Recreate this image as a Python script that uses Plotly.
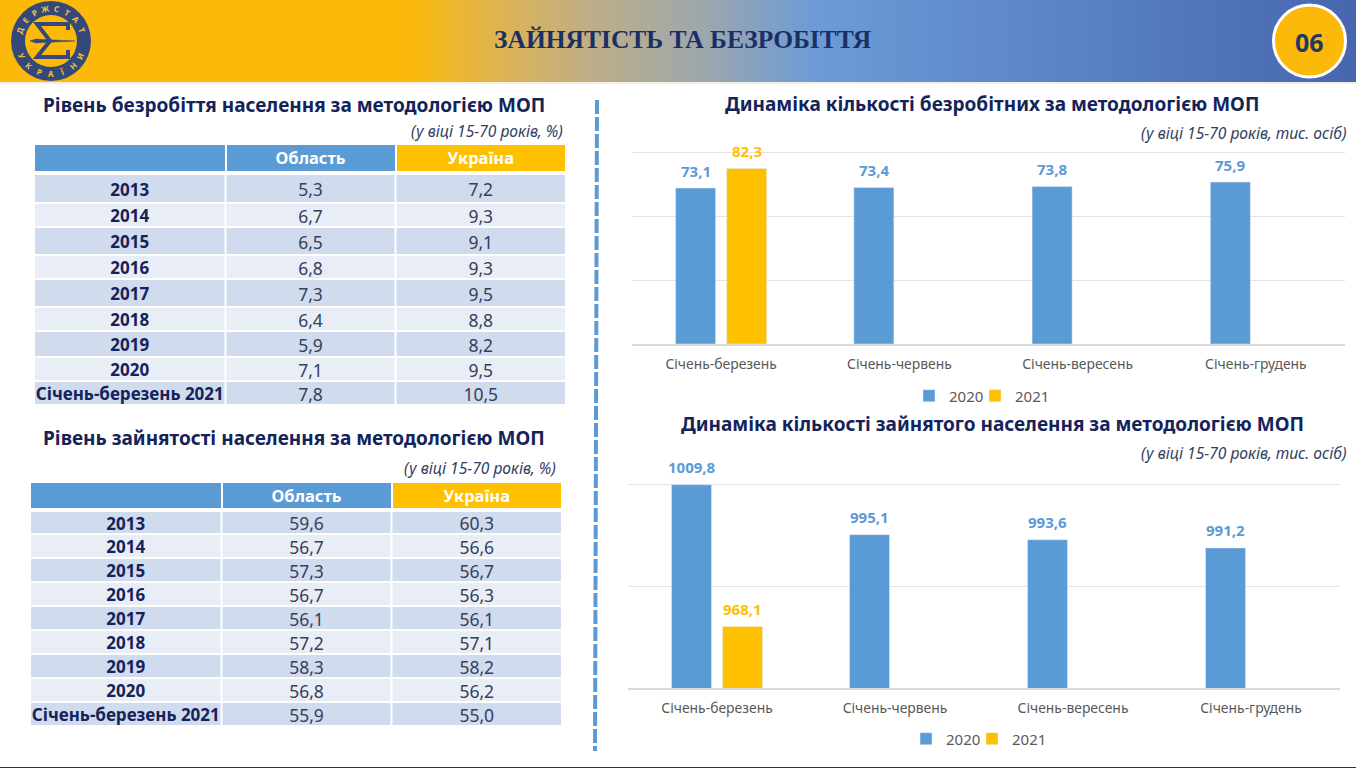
import base64, math
import plotly.graph_objects as go

W, H = 1356, 768
def X(p): return p / W
def Y(p): return 1 - p / H

# ---------- data ----------
table_rows = ["2013", "2014", "2015", "2016", "2017", "2018", "2019", "2020", "Січень-березень 2021"]
unemp_region = ["5,3", "6,7", "6,5", "6,8", "7,3", "6,4", "5,9", "7,1", "7,8"]
unemp_ukraine = ["7,2", "9,3", "9,1", "9,3", "9,5", "8,8", "8,2", "9,5", "10,5"]
empl_region = ["59,6", "56,7", "57,3", "56,7", "56,1", "57,2", "58,3", "56,8", "55,9"]
empl_ukraine = ["60,3", "56,6", "56,7", "56,3", "56,1", "57,1", "58,2", "56,2", "55,0"]

periods = ["Січень-березень", "Січень-червень", "Січень-вересень", "Січень-грудень"]
unemployed_2020 = [73.1, 73.4, 73.8, 75.9]
unemployed_2021 = [82.3, None, None, None]
employed_2020 = [1009.8, 995.1, 993.6, 991.2]
employed_2021 = [968.1, None, None, None]

BLUE, GOLD = "#5B9BD5", "#FFC000"
NAVY, GREY = "#14235A", "#595959"
FONT = "Noto Sans"
DARK, LIGHT = "#D0DBED", "#E9EDF6"

fig = go.Figure()
shapes = []

def rect(x0, y0, x1, y1, **kw):
    return dict(type="rect", xref="paper", yref="paper", x0=X(x0), x1=X(x1), y0=Y(y0), y1=Y(y1), **kw)

# ---------- tables ----------
def add_table(top_h, bot_h, edges, xs, rows, a, b):
    x_dom = [X(xs[0]), X(xs[3])]
    widths = [xs[1] - xs[0], xs[2] - xs[1], xs[3] - xs[2]]
    fig.add_trace(go.Table(
        domain=dict(x=x_dom, y=[Y(bot_h), Y(top_h)]),
        columnwidth=widths,
        header=dict(values=["", "Область", "Україна"], height=bot_h - top_h,
                    fill_color=[BLUE, BLUE, GOLD], line=dict(color="white", width=2),
                    align="center", font=dict(family=FONT, size=16.5, color="white", weight=700)),
    ))
    for i, (r, u, v) in enumerate(zip(rows, a, b)):
        fill = DARK if i % 2 == 0 else LIGHT
        for c in range(3):
            shapes.append(rect(xs[c] + 1, edges[i] + 1, xs[c + 1] - 1, edges[i + 1] - 1,
                               fillcolor=fill, line=dict(width=0), layer="below"))
        centre = (edges[i] + edges[i + 1]) / 2
        top = centre - 13.5
        fig.add_trace(go.Table(
            domain=dict(x=x_dom, y=[Y(top + 29), Y(top)]),
            columnwidth=widths,
            header=dict(values=[r.replace(" ", "\u00a0"), u, v], height=29, fill_color="rgba(0,0,0,0)",
                        line=dict(color="rgba(0,0,0,0)", width=0), align="center",
                        font=dict(family=FONT, size=[17, 17.5, 17.5], color=[NAVY, "#34405C", "#34405C"],
                                  weight=[700, 400, 400])),
        ))

add_table(144, 172, [174, 203, 227, 255, 279, 307, 331, 357, 381, 405], [34, 225.5, 395.5, 566],
          table_rows, unemp_region, unemp_ukraine)
add_table(482, 509, [511, 534, 558, 582, 606, 630, 654, 678, 702, 726], [30, 221.5, 391.5, 562],
          table_rows, empl_region, empl_ukraine)

# ---------- bar charts ----------
def add_chart(xa, ya, legend, v20, v21):
    fig.add_trace(go.Bar(x=periods, y=v20, name="2020", marker_color=BLUE, xaxis=xa, yaxis=ya, legend=legend))
    fig.add_trace(go.Bar(x=periods, y=v21, name="2021", marker_color=GOLD, xaxis=xa, yaxis=ya, legend=legend))

add_chart("x", "y", "legend", unemployed_2020, unemployed_2021)
add_chart("x2", "y2", "legend2", employed_2020, employed_2021)

annotations = []
def label(xa, ya, x, v, shift, color):
    annotations.append(dict(x=x, y=v, xref=xa, yref=ya, text=f"<b>{v:.1f}</b>".replace(".", ","),
                            showarrow=False, xshift=shift, yshift=17.5, yanchor="middle",
                            font=dict(family=FONT, size=15, color=color)))
for xa, ya, a20, a21 in (("x", "y", unemployed_2020, unemployed_2021), ("x2", "y2", employed_2020, employed_2021)):
    for p, a, b in zip(periods, a20, a21):
        label(xa, ya, p, a, -25.5, BLUE)
        if b is not None:
            label(xa, ya, p, b, 25.5, GOLD)

def text(x, y, s, size, color=NAVY, xanchor="center", family=FONT, **kw):
    annotations.append(dict(x=X(x), y=Y(y), xref="paper", yref="paper", text=s, showarrow=False,
                            xanchor=xanchor, yanchor="middle", font=dict(family=family, size=size, color=color), **kw))

TITLE = 19
text(293.5, 105, "<b>Рівень безробіття населення за методологією МОП</b>", TITLE)
text(294, 438, "<b>Рівень зайнятості населення за методологією МОП</b>", TITLE)
text(992, 104, "<b>Динаміка кількості безробітних за методологією МОП</b>", TITLE)
text(992, 424, "<b>Динаміка кількості зайнятого населення за методологією МОП</b>", TITLE)
SUB = "#33415F"
SUBSIZE = 15.6
text(565, 131, "<i>(у віці 15-70 років, %)</i>", SUBSIZE, SUB, "right")
text(558, 468, "<i>(у віці 15-70 років, %)</i>", SUBSIZE, SUB, "right")
text(1348, 133, "<i>(у віці 15-70 років, тис. осіб)</i>", SUBSIZE, SUB, "right")
text(1348, 453, "<i>(у віці 15-70 років, тис. осіб)</i>", SUBSIZE, SUB, "right")
text(682, 39, "<b>ЗАЙНЯТІСТЬ ТА БЕЗРОБІТТЯ</b>", 25.5, "#1C2F63", family="Liberation Serif")
text(1309.5, 42, "<b>06</b>", 25, "#1F3864")

# logo letters round the ring
RING = "#34497A"
LC, LR = (51, 41), 33
def arc(word, start, step, flip):
    for i, ch in enumerate(word):
        ang = math.radians(start + i * step)
        x = LC[0] + LR * math.sin(ang)
        y = LC[1] - LR * math.cos(ang)
        rot = start + i * step + (180 if flip else 0)
        text(x, y, f"<b>{ch}</b>", 8, "#F6C136", textangle=rot)
arc("ДЕРЖСТАТ", -70, 20, False)
arc("УКРАЇНИ", 243, -21, True)

# ---------- header gradient ----------
svg = ('<svg xmlns="http://www.w3.org/2000/svg" width="1356" height="82" preserveAspectRatio="none">'
       '<defs><linearGradient id="g"><stop offset="0" stop-color="#FDB90A"/>'
       '<stop offset="0.30" stop-color="#FDB90A"/><stop offset="0.38" stop-color="#D9B35C"/>'
       '<stop offset="0.436" stop-color="#BEAD87"/><stop offset="0.52" stop-color="#9CA7AE"/>'
       '<stop offset="0.605" stop-color="#6A9BD8"/>'
       '<stop offset="1" stop-color="#4766AF"/></linearGradient></defs>'
       '<rect width="1356" height="82" fill="url(#g)"/></svg>')
uri = "data:image/svg+xml;base64," + base64.b64encode(svg.encode()).decode()

def circle(cx, cy, r, fill, line=None, lw=0):
    return dict(type="circle", xref="paper", yref="paper", x0=X(cx - r), x1=X(cx + r), y0=Y(cy - r), y1=Y(cy + r),
                fillcolor=fill, line=dict(color=line or fill, width=lw), layer="above")
def path(points, color, lw, close=False, fill=None):
    d = "M" + " L".join(f"{X(a):.5f},{Y(b):.5f}" for a, b in points) + (" Z" if close else "")
    return dict(type="path", xref="paper", yref="paper", path=d, line=dict(color=color, width=lw),
                fillcolor=fill or "rgba(0,0,0,0)", layer="above")

shapes += [
    rect(0, 82, W, 84, fillcolor="#F4EFE0", line=dict(width=0), layer="below"),
    rect(0, 767, W, 768, fillcolor="#333333", line=dict(width=0), layer="above"),
    dict(type="line", xref="paper", yref="paper", x0=X(597), x1=X(595), y0=Y(100), y1=Y(751),
         line=dict(color=BLUE, width=4, dash="14px,3px")),
    circle(1309.5, 41, 36, "#FDB90A", "white", 3),
    circle(LC[0], LC[1], 40, RING),
    circle(LC[0], LC[1], 26, "#FDB90A"),
    path([(68, 30), (68, 24), (37, 24), (50, 41), (37, 57), (68, 57), (68, 50)], RING, 4),
    path([(30, 41), (36, 39), (44, 39.5), (75, 41), (44, 42.5), (36, 43)], RING, 0.5, True, RING),
]

axis_common = dict(showline=True, linecolor="#D9D9D9", linewidth=1.5, ticks="", fixedrange=True,
                   tickfont=dict(family=FONT, size=13.9, color=GREY), ticklabelstandoff=7, categoryorder="array",
                   categoryarray=periods)
yaxis_common = dict(showticklabels=False, showgrid=True, gridcolor="#E3E3E3", gridwidth=1.2, zeroline=False,
                    ticks="", fixedrange=True, showline=False)
legend_common = dict(orientation="h", xanchor="left", yanchor="middle", bgcolor="rgba(0,0,0,0)",
                     font=dict(family=FONT, size=15, color=GREY), entrywidth=34, entrywidthmode="pixels",
                     indentation=-13, itemclick=False, itemdoubleclick=False)

fig.update_layout(
    width=W, height=H, margin=dict(l=0, r=0, t=0, b=0), autosize=False,
    paper_bgcolor="white", plot_bgcolor="white", separators=", ",
    barmode="group", bargap=0.427, bargroupgap=0.216, showlegend=True,
    font=dict(family=FONT),
    xaxis=dict(domain=[X(632), X(1345)], anchor="y", **axis_common),
    yaxis=dict(domain=[Y(344), Y(150)], anchor="x", range=[0, 90.94], tick0=0, dtick=30, **yaxis_common),
    xaxis2=dict(domain=[X(628), X(1340)], anchor="y2", **axis_common),
    yaxis2=dict(domain=[Y(688), Y(482)], anchor="x2", range=[950, 1010.59], tick0=950, dtick=30, **yaxis_common),
    legend=dict(x=X(922), y=Y(396), **legend_common),
    legend2=dict(x=X(919), y=Y(739), **legend_common),
    annotations=annotations, shapes=shapes,
    images=[dict(source=uri, xref="paper", yref="paper", x=0, y=1, sizex=1, sizey=82 / H,
                 sizing="stretch", xanchor="left", yanchor="top", layer="below")],
)

fig.write_html("out.html", config=dict(displayModeBar=False),
               post_script="document.body.style.margin='0';document.body.style.overflow='hidden';")
